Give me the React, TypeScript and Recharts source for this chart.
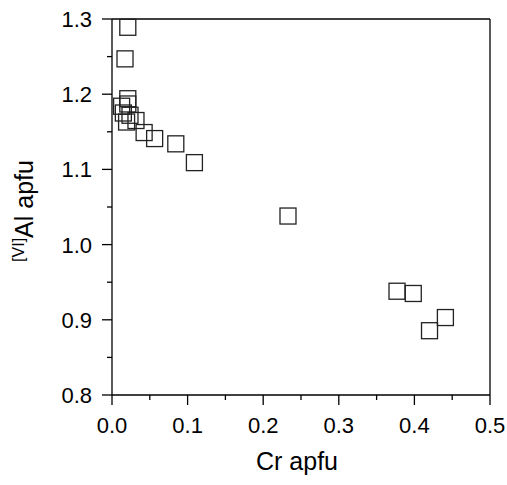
import React from 'react';
import { ScatterChart, Scatter, XAxis, YAxis, ReferenceLine } from 'recharts';

// Cr apfu vs [VI]Al apfu
const crApfu = [
  0.0209, 0.0172, 0.0209, 0.0209, 0.0127, 0.015, 0.0193, 0.0238, 0.0317,
  0.0425, 0.0564, 0.0844, 0.109, 0.2328, 0.377, 0.3985, 0.42, 0.441,
];
const alApfu = [
  1.289, 1.247, 1.194, 1.187, 1.184, 1.175, 1.163, 1.172, 1.165,
  1.149, 1.141, 1.134, 1.109, 1.038, 0.938, 0.935, 0.8855, 0.903,
];

const xTicks = [0, 0.05, 0.1, 0.15, 0.2, 0.25, 0.3, 0.35, 0.4, 0.45, 0.5];
const xMajor = [0, 0.1, 0.2, 0.3, 0.4, 0.5];
const yTicks = [0.8, 0.85, 0.9, 0.95, 1.0, 1.05, 1.1, 1.15, 1.2, 1.25, 1.3];
const yMajor = [0.8, 0.9, 1.0, 1.1, 1.2, 1.3];

const points = crApfu.map((cr, i) => ({ cr, al: alApfu[i] }));

const FONT = '"Liberation Sans", Arial, sans-serif';
const INK = '#000';

const isMajor = (list: number[], v: number) => list.some((m) => Math.abs(m - v) < 1e-9);

const XTick = (props: any) => {
  const { x, y, payload } = props;
  const major = isMajor(xMajor, payload.value);
  return (
    <g>
      <line x1={x} x2={x} y1={y} y2={y + (major ? 10 : 5)} stroke={INK} strokeWidth={1.3} />
      {major && (
        <text x={x} y={y + 38} textAnchor="middle" fontSize={22} fontFamily={FONT} fill={INK}>
          {payload.value.toFixed(1)}
        </text>
      )}
    </g>
  );
};

const YTick = (props: any) => {
  const { x, y, payload } = props;
  const major = isMajor(yMajor, payload.value);
  return (
    <g>
      <line x1={x} x2={x - (major ? 10 : 5)} y1={y} y2={y} stroke={INK} strokeWidth={1.3} />
      {major && (
        <text x={x - 20} y={y + 8} textAnchor="end" fontSize={22} fontFamily={FONT} fill={INK}>
          {payload.value.toFixed(1)}
        </text>
      )}
    </g>
  );
};

const YLabel = (props: any) => {
  const { viewBox } = props;
  const cx = viewBox.x + 25;
  const cy = viewBox.y + viewBox.height / 2 + 4;
  return (
    <text
      x={cx}
      y={cy}
      transform={`rotate(-90, ${cx}, ${cy})`}
      textAnchor="middle"
      fontFamily={FONT}
      fontSize={25}
      fill={INK}
    >
      <tspan fontSize={16} dy={-9}>[VI]</tspan>
      <tspan dy={9}>Al apfu</tspan>
    </text>
  );
};

const Square = (props: any) => {
  const { cx, cy } = props;
  return <rect x={cx - 8} y={cy - 8} width={16} height={16} fill="none" stroke="#222" strokeWidth={1.3} />;
};

export default function App() {
  return (
    <div style={{ fontFamily: FONT }}>
      <style>{`html, body, #root, .recharts-wrapper, .recharts-surface { overflow: visible !important; }`}</style>
      <ScatterChart width={491} height={469} margin={{ top: 11, right: 9, bottom: 2, left: 0 }}>
        <XAxis
          type="number"
          dataKey="cr"
          domain={[0, 0.5]}
          ticks={xTicks}
          interval={0}
          tickSize={0}
          tickMargin={0}
          tickLine={false}
          tick={XTick}
          height={80}
          stroke={INK}
          strokeWidth={1.3}
          label={{ value: 'Cr apfu', position: 'insideBottom', offset: 5, dx: -4, fontSize: 25, fill: INK, fontFamily: FONT }}
        />
        <YAxis
          type="number"
          dataKey="al"
          domain={[0.8, 1.3]}
          ticks={yTicks}
          interval={0}
          tickSize={0}
          tickMargin={0}
          tickLine={false}
          tick={YTick}
          width={104}
          stroke={INK}
          strokeWidth={1.3}
          label={{ content: YLabel }}
        />
        <ReferenceLine y={1.3} stroke={INK} strokeWidth={1.3} />
        <ReferenceLine x={0.5} stroke={INK} strokeWidth={1.3} />
        <Scatter data={points} shape={Square} isAnimationActive={false} />
      </ScatterChart>
    </div>
  );
}
